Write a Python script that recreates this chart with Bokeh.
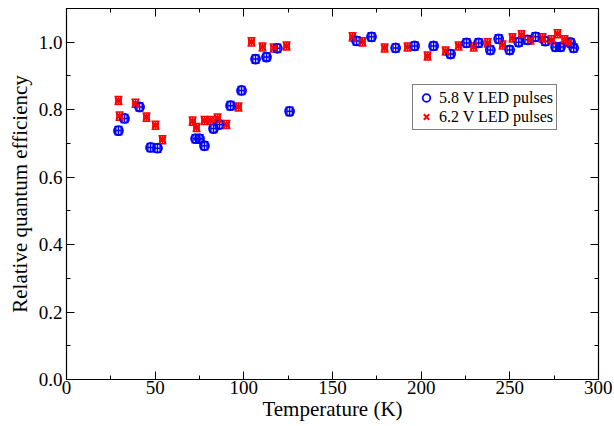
from bokeh.plotting import figure
from bokeh.models import (ColumnDataSource, Whisker, TeeHead, LinearAxis, FixedTicker,
                          PrintfTickFormatter, CustomJSTickFormatter, Legend, LegendItem,
                          Range1d)
from bokeh.embed import file_html
from bokeh.resources import INLINE

# 5.8 V LED pulses
t_58 = [29.3, 32.7, 41.2, 47.4, 51.3, 72.8, 75.0, 77.8, 82.9, 86.3, 92.5, 98.7,
        106.6, 112.8, 118.9, 125.8, 163.6, 172.0, 185.6, 196.3, 207.0, 216.6,
        225.6, 232.4, 239.0, 243.7, 249.9, 255.0, 260.0, 264.5, 270.0, 275.8,
        278.6, 284.3, 286.0]
e_58 = [0.738, 0.774, 0.808, 0.688, 0.686, 0.714, 0.714, 0.693, 0.744, 0.756,
        0.812, 0.857, 0.950, 0.956, 0.982, 0.795, 1.004, 1.016, 0.983, 0.989,
        0.989, 0.965, 0.998, 0.998, 0.977, 1.010, 0.977, 1.000, 1.007, 1.016,
        1.003, 0.986, 0.986, 0.998, 0.983]
err_58 = [0.012, 0.012, 0.012, 0.012, 0.012, 0.012, 0.012, 0.012, 0.012, 0.012,
          0.012, 0.012, 0.012, 0.012, 0.012, 0.012, 0.012, 0.012, 0.012, 0.012,
          0.012, 0.012, 0.012, 0.012, 0.012, 0.012, 0.012, 0.012, 0.012, 0.012,
          0.012, 0.012, 0.012, 0.012, 0.012]

# 6.2 V LED pulses
t_62 = [29.3, 29.9, 38.9, 45.1, 50.2, 54.1, 71.1, 73.3, 77.8, 81.2, 85.2, 90.2,
        97.0, 104.3, 110.5, 116.8, 124.1, 161.3, 166.9, 179.4, 192.3, 203.6,
        213.8, 221.1, 229.6, 237.5, 245.9, 251.5, 256.6, 261.7, 268.5, 273.5,
        276.9, 280.9, 283.1]
e_62 = [0.827, 0.781, 0.819, 0.778, 0.754, 0.711, 0.766, 0.747, 0.768, 0.768,
        0.775, 0.756, 0.808, 1.001, 0.986, 0.983, 0.989, 1.016, 1.001, 0.983,
        0.986, 0.959, 0.974, 0.989, 0.986, 0.998, 0.992, 1.013, 1.022, 1.007,
        1.013, 1.007, 1.025, 1.007, 1.001]
err_62 = [0.012, 0.012, 0.012, 0.012, 0.012, 0.012, 0.012, 0.012, 0.012, 0.012,
          0.012, 0.012, 0.012, 0.012, 0.012, 0.012, 0.012, 0.012, 0.012, 0.012,
          0.012, 0.012, 0.012, 0.012, 0.012, 0.012, 0.012, 0.012, 0.012, 0.012,
          0.012, 0.012, 0.012, 0.012, 0.012]
terr = 1.5

x_ticks = [0, 50, 100, 150, 200, 250, 300]
y_ticks = [0.0, 0.2, 0.4, 0.6, 0.8, 1.0]

FONT = "Liberation Serif"

p = figure(width=612, height=425, output_backend="svg", toolbar_location=None,
           x_range=Range1d(0, 300), y_range=Range1d(0, 1.1),
           min_border_left=66, min_border_right=14, min_border_top=8,
           min_border_bottom=46, x_axis_label="Temperature (K)",
           y_axis_label="Relative quantum efficiency")
p.xgrid.visible = False
p.ygrid.visible = False
p.outline_line_color = "black"
p.outline_line_width = 1.2


def style_axis(ax, ticks):
    ax.ticker = FixedTicker(ticks=ticks,
                            minor_ticks=[t + (ticks[1] - ticks[0]) / 2 for t in ticks[:-1]])
    ax.major_tick_in = 8
    ax.major_tick_out = 0
    ax.minor_tick_in = 4
    ax.minor_tick_out = 0
    ax.axis_line_color = "black"
    ax.major_tick_line_color = "black"
    ax.minor_tick_line_color = "black"
    ax.major_label_text_font = FONT
    ax.major_label_text_font_size = "19px"
    ax.major_label_text_color = "black"
    ax.axis_label_text_font = FONT
    ax.axis_label_text_font_size = "21px"
    ax.axis_label_text_font_style = "normal"
    ax.axis_label_text_color = "black"


style_axis(p.xaxis[0], x_ticks)
style_axis(p.yaxis[0], y_ticks)
p.yaxis[0].formatter = PrintfTickFormatter(format="%.1f")
p.xaxis[0].major_label_standoff = 1
p.yaxis[0].major_label_standoff = 4
p.xaxis[0].axis_label_standoff = 0
p.yaxis[0].axis_label_standoff = 4

top = LinearAxis(formatter=CustomJSTickFormatter(code="return ''"))
style_axis(top, x_ticks)
top.major_label_standoff = 0
p.add_layout(top, "above")
right = LinearAxis(formatter=CustomJSTickFormatter(code="return ''"))
style_axis(right, y_ticks)
right.major_label_standoff = 0
p.add_layout(right, "right")

src58 = ColumnDataSource(dict(t=t_58, e=e_58,
                              lo=[a - b for a, b in zip(e_58, err_58)],
                              hi=[a + b for a, b in zip(e_58, err_58)],
                              tl=[a - terr for a in t_58], th=[a + terr for a in t_58]))
src62 = ColumnDataSource(dict(t=t_62, e=e_62,
                              lo=[a - b for a, b in zip(e_62, err_62)],
                              hi=[a + b for a, b in zip(e_62, err_62)],
                              tl=[a - terr for a in t_62], th=[a + terr for a in t_62]))

for src, col in ((src58, "#0000ff"), (src62, "#ff0000")):
    w = Whisker(source=src, base="t", lower="lo", upper="hi", dimension="height",
                line_color=col, line_width=1.5,
                upper_head=TeeHead(size=8, line_color=col, line_width=1.5),
                lower_head=TeeHead(size=8, line_color=col, line_width=1.5))
    p.add_layout(w)
    wx = Whisker(source=src, base="e", lower="tl", upper="th", dimension="width",
                 line_color=col, line_width=1.5,
                 upper_head=TeeHead(size=8, line_color=col, line_width=1.5),
                 lower_head=TeeHead(size=8, line_color=col, line_width=1.5))
    p.add_layout(wx)

r58 = p.scatter("t", "e", source=src58, marker="circle", size=9,
                fill_color=None, line_color="#0000ff", line_width=1.8)
r62 = p.scatter("t", "e", source=src62, marker="x", size=9,
                line_color="#ff0000", line_width=2)

legend = Legend(items=[LegendItem(label="5.8 V LED pulses", renderers=[r58]),
                       LegendItem(label="6.2 V LED pulses", renderers=[r62])],
                location=(346, 249))
legend.label_text_font = FONT
legend.label_text_font_size = "16px"
legend.label_text_color = "black"
legend.border_line_color = "black"
legend.border_line_width = 1
legend.padding = 3
legend.spacing = 0
legend.margin = 0
legend.glyph_width = 20
legend.glyph_height = 19
legend.label_height = 19
legend.label_standoff = 3
p.add_layout(legend, "center")

open("out.html", "w").write(file_html(p, INLINE))
